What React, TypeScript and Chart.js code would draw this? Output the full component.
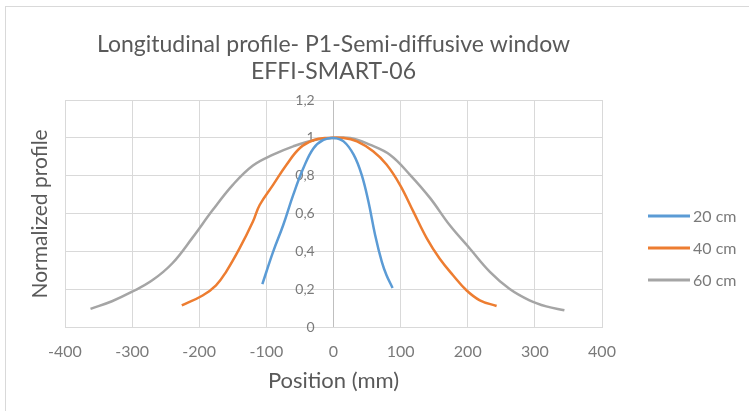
import React, { useEffect, useRef } from 'react';
import { Chart, registerables } from 'chart.js';

Chart.register(...registerables);

const titleLines = ['Longitudinal profile- P1-Semi-diffusive window', 'EFFI-SMART-06'];
const xTitle = 'Position (mm)';
const yTitle = 'Normalized profile';

const seriesLabels = ['20 cm', '40 cm', '60 cm'];
const seriesColors = ['#5b9bd5', '#ed7d31', '#a5a5a5'];

const pos20 = [-106, -90, -75, -60, -45, -30, -15, 0, 15, 30, 42, 52, 62, 72, 79, 88];
const val20 = [0.23, 0.40, 0.54, 0.70, 0.84, 0.945, 0.99, 1.0, 0.982, 0.912, 0.806, 0.665, 0.489, 0.347, 0.277, 0.21];

const pos40 = [-226, -195, -175, -160, -140, -120, -110, -90, -70, -50, -30, -10, 15, 35, 59, 79, 99, 119, 139, 158, 178, 198, 218, 243];
const val40 = [0.118, 0.17, 0.224, 0.295, 0.418, 0.56, 0.647, 0.753, 0.859, 0.947, 0.988, 1.0, 1.0, 0.982, 0.93, 0.86, 0.753, 0.612, 0.471, 0.365, 0.277, 0.198, 0.145, 0.115];

const pos60 = [-362, -330, -300, -270, -240, -210, -180, -150, -120, -90, -60, -30, 0, 25, 54, 84, 114, 144, 173, 203, 233, 262, 292, 317, 344];
const val60 = [0.10, 0.14, 0.19, 0.25, 0.34, 0.475, 0.62, 0.753, 0.855, 0.912, 0.956, 0.988, 1.0, 1.0, 0.965, 0.912, 0.806, 0.683, 0.541, 0.418, 0.295, 0.206, 0.145, 0.113, 0.092];

const xMin = -400;
const xMax = 400;
const xStep = 100;
const yMin = 0;
const yMax = 1.2;
const yStep = 0.2;
// x value at which the y-axis labels are right-aligned (they sit a little left of the x = 0 line)
const yLabelAnchor = -28;

const FONT = 'Lato, "Open Sans", sans-serif';
const TEXT_DARK = '#595959';
const TEXT_TICK = '#7a7a7a';
const GRID = '#d9d9d9';
const AXIS_LINE = '#bfbfbf';

const toPoints = (xs: number[], ys: number[]) => xs.map((x, i) => ({ x, y: ys[i] }));

const sideLegend = {
  id: 'sideLegend',
  afterDraw(chart: any) {
    const { ctx, chartArea } = chart;
    const x0 = chartArea.right + 46;
    const mid = (chartArea.top + chartArea.bottom) / 2 + 34;
    chart.data.datasets.forEach((ds: any, i: number) => {
      const y = mid + (i - 1) * 32;
      ctx.save();
      ctx.strokeStyle = ds.borderColor;
      ctx.lineWidth = 3;
      ctx.beginPath();
      ctx.moveTo(x0, y);
      ctx.lineTo(x0 + 42, y);
      ctx.stroke();
      ctx.fillStyle = TEXT_TICK;
      ctx.font = '16px ' + FONT;
      ctx.textBaseline = 'middle';
      ctx.textAlign = 'left';
      ctx.fillText(ds.label, x0 + 45, y + 1);
      ctx.restore();
    });
  },
};

export default function App() {
  const ref = useRef<HTMLCanvasElement | null>(null);

  useEffect(() => {
    if (!ref.current) return;
    const series = [toPoints(pos20, val20), toPoints(pos40, val40), toPoints(pos60, val60)];
    const chart = new Chart(ref.current, {
      type: 'line',
      data: {
        datasets: series.map((pts, i) => ({
          label: seriesLabels[i],
          data: pts,
          borderColor: seriesColors[i],
          backgroundColor: seriesColors[i],
          borderWidth: 2.5,
          pointRadius: 0,
          fill: false,
          tension: 0.4,
        })),
      },
      options: {
        animation: false,
        responsive: true,
        maintainAspectRatio: false,
        layout: { padding: { left: 0, right: 148, top: 0, bottom: 0 } },
        plugins: {
          legend: { display: false },
          tooltip: { enabled: false },
          title: {
            display: true,
            text: titleLines,
            fullSize: false,
            color: TEXT_DARK,
            font: { family: FONT, size: 23, weight: 'normal', lineHeight: 27 / 23 },
            padding: { top: 31.5, bottom: 14.5 },
          },
        },
        scales: {
          x: {
            type: 'linear',
            position: 'bottom',
            min: xMin,
            max: xMax,
            ticks: {
              stepSize: xStep,
              color: TEXT_TICK,
              font: { family: FONT, size: 16 },
              padding: 14,
            },
            grid: {
              color: (c: any) => (c.tick && c.tick.value === 0 ? AXIS_LINE : GRID),
              lineWidth: 1,
              drawTicks: false,
            },
            border: { color: GRID },
            title: {
              display: true,
              text: xTitle,
              color: TEXT_DARK,
              font: { family: FONT, size: 22, lineHeight: 1 },
              padding: { top: -5, bottom: 20 },
            },
          },
          y: {
            type: 'linear',
            position: { x: yLabelAnchor },
            min: yMin,
            max: yMax,
            ticks: {
              stepSize: yStep,
              color: TEXT_TICK,
              font: { family: FONT, size: 14 },
              callback: (v: any) => String(Math.round(Number(v) * 10) / 10).replace('.', ','),
            },
            grid: { color: GRID, lineWidth: 1, drawTicks: false },
            border: { display: false },
          },
          yLabel: {
            type: 'linear',
            position: 'left',
            display: true,
            grid: { display: false, drawTicks: false },
            border: { display: false },
            ticks: { display: false },
            title: {
              display: true,
              text: yTitle,
              color: TEXT_DARK,
              font: { family: FONT, size: 21 },
              padding: { top: 27.4, bottom: 0 },
            },
            afterFit: (s: any) => {
              s.width = 65;
            },
          },
        },
      },
      plugins: [sideLegend],
    } as any);
    return () => chart.destroy();
  }, []);

  return (
    <div style={{ position: 'absolute', left: 0, top: 0, width: 750, height: 412, background: '#fff' }}>
      <div
        style={{
          position: 'absolute',
          left: 5,
          top: 6,
          width: 744,
          height: 405,
          borderLeft: '1px solid #d9d9d9',
          borderTop: '1px solid #d9d9d9',
          boxSizing: 'border-box',
        }}
      />
      <canvas ref={ref} width={750} height={412} style={{ position: 'absolute', left: 0, top: 0 }} />
    </div>
  );
}
